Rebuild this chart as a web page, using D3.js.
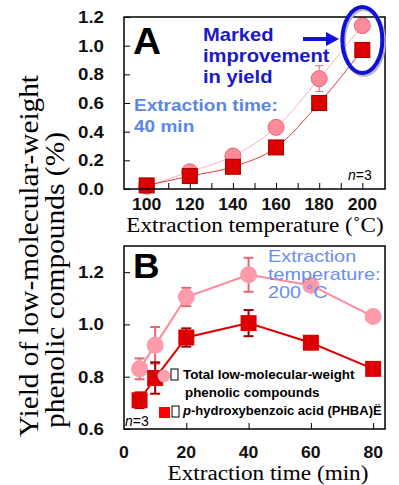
<!DOCTYPE html>
<html><head><meta charset="utf-8">
<script src="https://cdn.jsdelivr.net/npm/d3@7"></script>
<style>body{margin:0;background:#fff}svg{display:block}</style>
</head><body>
<script>
// ---- data ----
const tempA = [100, 120, 140, 160, 180, 200];
const totalA = [0.02, 0.12, 0.23, 0.43, 0.77, 1.14];
const totalAErr = [0.01, 0.01, 0.02, 0.02, 0.09, 0.03];
const phbaA = [0.025, 0.09, 0.155, 0.29, 0.60, 0.97];
const phbaAErr = [0.01, 0.01, 0.02, 0.02, 0.03, 0.02];
const yTicksA = [0.0, 0.2, 0.4, 0.6, 0.8, 1.0, 1.2];
const xTicksA = [100, 120, 140, 160, 180, 200];

const timeB = [5, 10, 20, 40, 60, 80];
const totalB = [0.83, 0.92, 1.105, 1.19, 1.15, 1.03];
const totalBErr = [0.04, 0.07, 0.035, 0.065, 0.01, 0.01];
const phbaB = [0.71, 0.795, 0.95, 1.005, 0.93, 0.83];
const phbaBErr = [0.03, 0.06, 0.035, 0.05, 0.01, 0.01];
const yTicksB = [0.6, 0.8, 1.0, 1.2];
const xTicksB = [0, 20, 40, 60, 80];

const PINK = "#ff8a9c", PINK_D = "#e06878", RED = "#dd0000", RED_D = "#a00000";
const SANS = "'Liberation Sans', Arial, sans-serif";
const SERIF = "'Liberation Serif', 'Times New Roman', serif";

const svg = d3.select("body").append("svg").attr("width", 399).attr("height", 485);

function txt(g, x, y, s, o = {}) {
  const t = g.append("text")
    .attr("transform", `translate(${x},${y}) scale(${o.sx || 1},1)`)
    .attr("font-family", o.ff || SANS)
    .attr("font-size", o.fs || 14)
    .attr("font-weight", o.fw || "normal")
    .attr("fill", o.fill || "#000")
    .attr("text-anchor", o.anchor || "start");
  if (o.fst) t.attr("font-style", o.fst);
  if (Array.isArray(s)) {
    s.forEach((line, i) => t.append("tspan").attr("x", 0).attr("dy", i ? o.lh : 0).text(line));
  } else t.text(s);
  return t;
}

function panel(cfg) {
  const x = d3.scaleLinear().domain(cfg.xDom).range([124, 385]);
  const y = d3.scaleLinear().domain(cfg.yDom).range([cfg.bottom, cfg.top]);
  const g = svg.append("g");
  g.append("g").attr("transform", `translate(124,0)`)
    .call(d3.axisRight(y).tickValues(cfg.yTicks).tickSize(6).tickFormat(""))
    .call(a => a.select(".domain").remove())
    .selectAll("line").attr("stroke", "#000").attr("stroke-width", 1);
  g.append("g").attr("transform", `translate(0,${cfg.bottom})`)
    .call(d3.axisTop(x).tickValues(cfg.xMinor).tickSize(6).tickFormat(""))
    .call(a => a.select(".domain").remove())
    .selectAll("line").attr("stroke", "#000").attr("stroke-width", 1);
  cfg.yTicks.forEach(v => txt(g, 104, y(v) + 6, d3.format(".1f")(v),
    {fs: 17, fw: "bold", anchor: "end", sx: 1.1, fill: "#111"}));
  cfg.xTicks.forEach(v => txt(g, x(v), cfg.xLabY, String(v),
    {fs: 16, fw: "bold", anchor: "middle", sx: 1.1, fill: "#111"}));
  return {g, x, y};
}

// ---------- Panel A ----------
const A = panel({xDom: [89.5, 210.5], yDom: [0, 1.2], top: 17, bottom: 189,
  yTicks: yTicksA, xTicks: xTicksA, xMinor: d3.range(100, 210, 10), xLabY: 210});

const lineA = (ys) => d3.line().curve(d3.curveMonotoneX)
  .x((d, i) => A.x(tempA[i])).y(d => A.y(d))(ys);
A.g.append("path").attr("d", lineA(totalA)).attr("fill", "none").attr("stroke", "#ffb0bc").attr("stroke-width", 1);
A.g.append("path").attr("d", lineA(phbaA)).attr("fill", "none").attr("stroke", "#e83a3a").attr("stroke-width", 1);
function errBars(P, xs, ys, es, color, w, cap) {
  xs.forEach((xv, i) => {
    const cx = P.x(xv), y1 = P.y(ys[i] + es[i]), y2 = P.y(ys[i] - es[i]);
    P.g.append("line").attr("x1", cx).attr("x2", cx).attr("y1", y1).attr("y2", y2).attr("stroke", color).attr("stroke-width", w);
    [y1, y2].forEach(yy => P.g.append("line").attr("x1", cx - cap).attr("x2", cx + cap).attr("y1", yy).attr("y2", yy).attr("stroke", color).attr("stroke-width", w));
  });
}
errBars(A, tempA, totalA, totalAErr, PINK_D, 1, 4);
errBars(A, tempA, phbaA, phbaAErr, RED_D, 1, 4);
A.g.selectAll("circle.t").data(totalA).enter().append("circle")
  .attr("cx", (d, i) => A.x(tempA[i])).attr("cy", d => A.y(d)).attr("r", 8)
  .attr("fill", PINK).attr("stroke", PINK_D).attr("stroke-width", 1);
A.g.selectAll("rect.p").data(phbaA).enter().append("rect")
  .attr("x", (d, i) => A.x(tempA[i]) - 7.5).attr("y", d => A.y(d) - 7.5)
  .attr("width", 15).attr("height", 15).attr("fill", RED).attr("stroke", RED_D).attr("stroke-width", 1);
A.g.append("rect").attr("x", 124).attr("y", 17).attr("width", 261).attr("height", 172)
  .attr("fill", "none").attr("stroke", "#000").attr("stroke-width", 1.5);
txt(A.g, 133, 54, "A", {fs: 37, fw: "bold", sx: 1.05});
txt(A.g, 134, 111, ["Extraction time:", "40 min"], {fs: 17, fw: "bold", fill: "#5a86e8", sx: 1.12, lh: 21});
txt(A.g, 203, 41, ["Marked", "improvement", "in yield"], {fs: 18, fw: "bold", fill: "#1a1ac8", sx: 1.12, lh: 21});
A.g.append("line").attr("x1", 303).attr("x2", 328).attr("y1", 39).attr("y2", 39).attr("stroke", "#1010e0").attr("stroke-width", 4);
A.g.append("path").attr("d", "M326,32 L339,39 L326,46 Z").attr("fill", "#1010e0");
const ex = A.x(200);
A.g.append("ellipse").attr("cx", ex + 1.5).attr("cy", 42).attr("rx", 20).attr("ry", 33)
  .attr("fill", "none").attr("stroke", "#b8b8c8").attr("stroke-width", 4);
A.g.append("ellipse").attr("cx", ex).attr("cy", 40).attr("rx", 20).attr("ry", 33)
  .attr("fill", "none").attr("stroke", "#1010d8").attr("stroke-width", 4);
const n3a = A.g.append("text").attr("x", 348).attr("y", 180).attr("font-family", SANS).attr("font-size", 14);
n3a.append("tspan").attr("font-style", "italic").text("n");
n3a.append("tspan").text("=3");

// ---------- Panel B ----------
const B = panel({xDom: [0, 83.8], yDom: [0.6, 1.3], top: 246, bottom: 429,
  yTicks: yTicksB, xTicks: xTicksB, xMinor: [20, 40, 60, 80], xLabY: 458});
const lineB = (ys) => d3.line().x((d, i) => B.x(timeB[i])).y(d => B.y(d))(ys);
B.g.append("path").attr("d", lineB(totalB)).attr("fill", "none").attr("stroke", PINK).attr("stroke-width", 2);
B.g.append("path").attr("d", lineB(phbaB)).attr("fill", "none").attr("stroke", RED).attr("stroke-width", 2);
errBars(B, timeB, totalB, totalBErr, PINK_D, 2, 5);
errBars(B, timeB, phbaB, phbaBErr, RED_D, 2, 5);
B.g.selectAll("circle.t").data(totalB).enter().append("circle")
  .attr("cx", (d, i) => B.x(timeB[i])).attr("cy", d => B.y(d)).attr("r", 8.5)
  .attr("fill", "#ff9aaa").attr("stroke", "none");
B.g.selectAll("rect.p").data(phbaB).enter().append("rect")
  .attr("x", (d, i) => B.x(timeB[i]) - 8).attr("y", d => B.y(d) - 8)
  .attr("width", 16).attr("height", 16).attr("fill", RED).attr("stroke", "none");
B.g.append("rect").attr("x", 124).attr("y", 246).attr("width", 261).attr("height", 183)
  .attr("fill", "none").attr("stroke", "#000").attr("stroke-width", 1.5);
txt(B.g, 133, 278, "B", {fs: 35, fw: "bold", sx: 1.05});
txt(B.g, 268, 262, ["Extraction", "temperature:", "200 ˚C"], {fs: 16, fill: "#6a8ef0", sx: 1.24, lh: 18.2});
B.g.append("circle").attr("cx", 164).attr("cy", 376).attr("r", 6.5).attr("fill", "#ffa0b0");
B.g.append("rect").attr("x", 171).attr("y", 369).attr("width", 7).attr("height", 11).attr("fill", "#fff").attr("stroke", "#000").attr("stroke-width", 1);
txt(B.g, 183, 379, "Total low-molecular-weight", {fs: 13, fw: "bold", sx: 1.03});
txt(B.g, 185, 397, "phenolic compounds", {fs: 13, fw: "bold", sx: 1.03});
B.g.append("rect").attr("x", 159).attr("y", 407).attr("width", 11).attr("height", 11).attr("fill", "#ff0000");
B.g.append("rect").attr("x", 172).attr("y", 406).attr("width", 7).attr("height", 11).attr("fill", "#fff").attr("stroke", "#000").attr("stroke-width", 1);
const lg = B.g.append("text").attr("x", 183).attr("y", 415).attr("font-family", SANS).attr("font-size", 13).attr("font-weight", "bold");
lg.append("tspan").attr("font-style", "italic").text("p");
lg.append("tspan").text("-hydroxybenzoic acid (PHBA)Ë");
const n3b = B.g.append("text").attr("x", 125).attr("y", 426).attr("font-family", SANS).attr("font-size", 14);
n3b.append("tspan").attr("font-style", "italic").text("n");
n3b.append("tspan").text("=3");

// axis titles
txt(svg, 255, 232, "Extraction temperature (˚C)", {ff: SERIF, fs: 20, sx: 1.16, anchor: "middle"});
txt(svg, 268, 480, "Extraction time (min)", {ff: SERIF, fs: 20, sx: 1.16, anchor: "middle"});
svg.append("text").attr("transform", "translate(38,256) rotate(-90)").attr("text-anchor", "middle")
  .attr("font-family", SERIF).attr("font-size", 28)
  .attr("textLength", 362).attr("lengthAdjust", "spacingAndGlyphs").text("Yield of low-molecular-weight");
svg.append("text").attr("transform", "translate(64,280) rotate(-90)").attr("text-anchor", "middle")
  .attr("font-family", SERIF).attr("font-size", 28)
  .attr("textLength", 296).attr("lengthAdjust", "spacingAndGlyphs").text("phenolic compounds (%)");
</script>
</body></html>
